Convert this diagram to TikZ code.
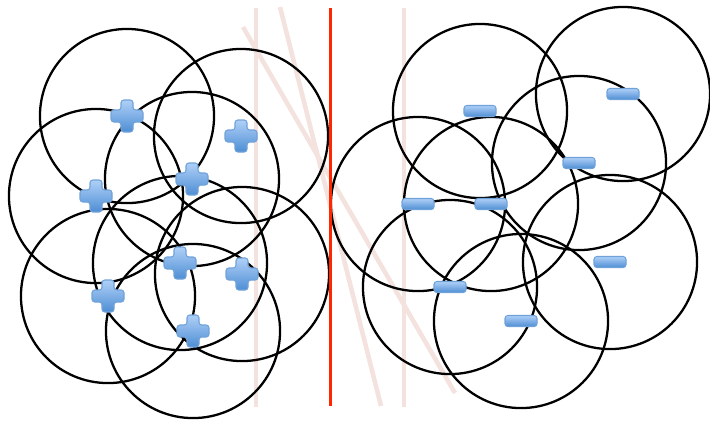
\documentclass[tikz,border=0pt]{standalone}
\usepackage{tikz}
\definecolor{signtop}{RGB}{175,208,247}
\definecolor{signbot}{RGB}{78,142,212}
\definecolor{signedge}{RGB}{112,162,218}
\definecolor{faint}{RGB}{244,226,222}
\definecolor{divider}{RGB}{255,38,0}
\newcommand{\possign}[1]{\shade[sign] ([shift={(-16,-6)}]#1.center) -- ++(10,0) -- ++(0,-10) -- ++(12,0) -- ++(0,10) -- ++(10,0) -- ++(0,12) -- ++(-10,0) -- ++(0,10) -- ++(-12,0) -- ++(0,-10) -- ++(-10,0) -- cycle;}
\newcommand{\negsign}[1]{\shade[sign] ([shift={(-16,-5.5)}]#1.center) rectangle ++(32,11);}

\begin{document}
\begin{tikzpicture}[x=0.01cm,y=-0.01cm,
 disc/.style={circle,draw,line width=0.65pt,minimum size=1.74cm,inner sep=0pt},
 sign/.style={top color=signtop,bottom color=signbot,draw=signedge,line width=0.3pt,rounded corners=0.8},
 guide/.style={draw=faint,line width=1.3pt}]
\useasboundingbox (0,0) rectangle (710,420);
% faint candidate boundaries
\draw[guide] (256,8)--(256,407);
\draw[guide] (404,8)--(404,407);
\draw[guide] (280,7)--(381,406);
\draw[guide] (243,27)--(455,393);
% positive samples
\node[disc] (p1) at (127,116) {};
\node[disc] (p2) at (241,136) {};
\node[disc] (p3) at (192,179) {};
\node[disc] (p4) at (96,196) {};
\node[disc] (p5) at (180,263) {};
\node[disc] (p6) at (242,274) {};
\node[disc] (p7) at (108,296) {};
\node[disc] (p8) at (193,331) {};
% negative samples
\node[disc] (n1) at (480,111) {};
\node[disc] (n2) at (623,94) {};
\node[disc] (n3) at (579,163) {};
\node[disc] (n4) at (418,204) {};
\node[disc] (n5) at (491,204) {};
\node[disc] (n6) at (450,287) {};
\node[disc] (n7) at (610,262) {};
\node[disc] (n8) at (521,321) {};
% separating line
\draw[divider,line width=1.1pt] (330.5,8)--(330.5,406);
\possign{p1} \possign{p2} \possign{p3} \possign{p4}
\possign{p5} \possign{p6} \possign{p7} \possign{p8}
\negsign{n1} \negsign{n2} \negsign{n3} \negsign{n4}
\negsign{n5} \negsign{n6} \negsign{n7} \negsign{n8}
\end{tikzpicture}
\end{document}
